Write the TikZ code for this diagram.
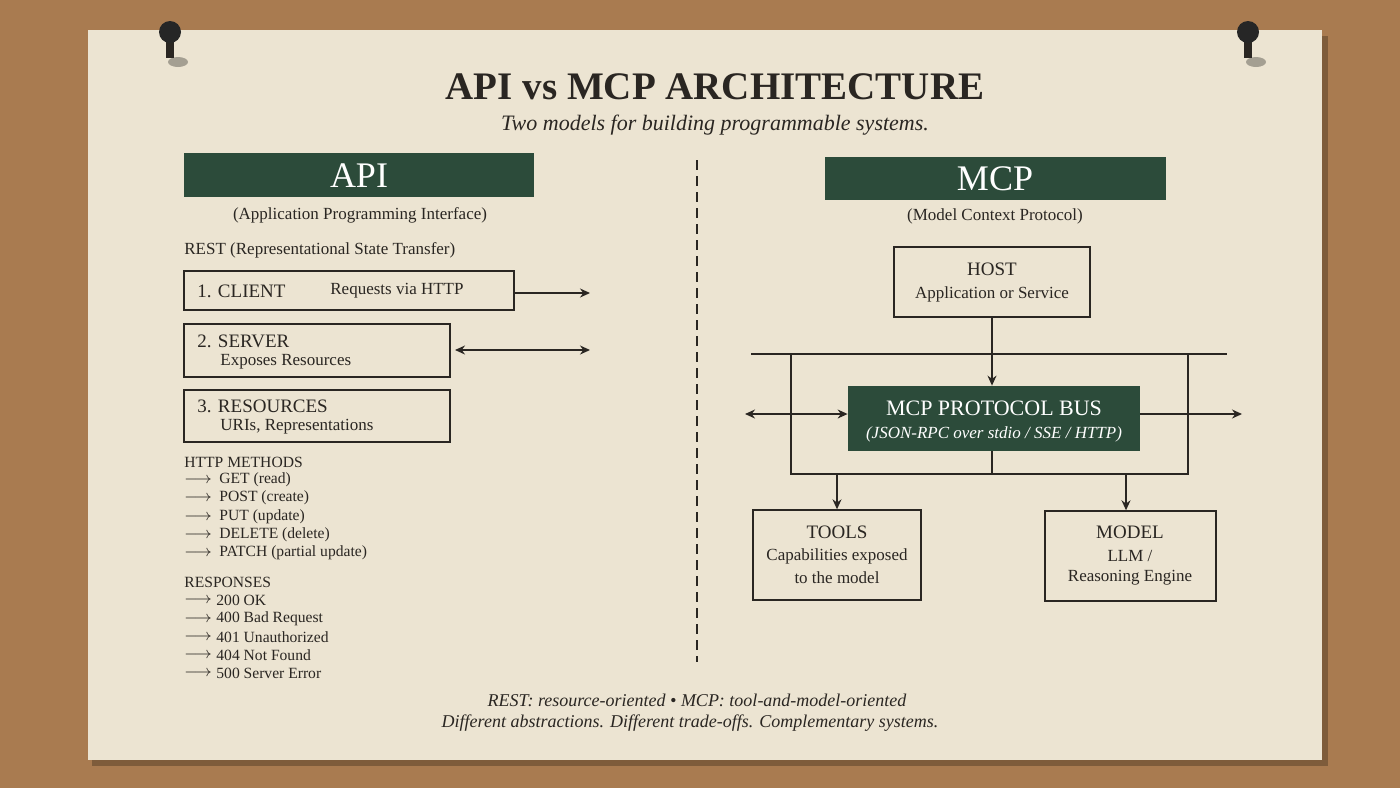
\documentclass[tikz,border=0pt]{standalone}
\usepackage{fontspec}
\setmainfont{Liberation Serif}
\usetikzlibrary{arrows.meta}
\definecolor{cork}{HTML}{A97B50}
\definecolor{paper}{HTML}{ECE4D2}
\definecolor{dgreen}{HTML}{2C4B3A}
\definecolor{ink}{HTML}{2A2622}
\begin{document}
\begin{tikzpicture}[x=0.5pt,y=-0.5pt,
  box/.style={draw=ink,line width=0.7pt},
  gbox/.style={fill=dgreen},
  t/.style={text=ink,inner sep=0pt,font=\fontsize{8.5}{10}\selectfont},
  s/.style={text=ink,inner sep=0pt,font=\fontsize{7.8}{9}\selectfont},
  h/.style={text=ink,inner sep=0pt,font=\fontsize{9.5}{11}\selectfont},
  ln/.style={draw=ink,line width=0.7pt},
  arr/.style={ln,-{Stealth[length=5pt,width=4.5pt]}},
  darr/.style={ln,{Stealth[length=5pt,width=4.5pt]}-{Stealth[length=5pt,width=4.5pt]}}]
\useasboundingbox (0,0) rectangle (1400,788);
\fill[cork] (0,0) rectangle (1400,788);
\fill[black,opacity=0.25] (92,36) rectangle (1328,766);
\fill[paper] (88,30) rectangle (1322,760);
% pins
\foreach \px in {170,1248}{
  \fill[black,opacity=0.3] (\px+8,62) ellipse (10 and 5);
  \fill[ink] (\px-4,40) rectangle (\px+4,58);
  \fill[black!85] (\px,32) ellipse (11 and 11);
}
\node[t,font=\fontsize{19.5}{24}\selectfont\bfseries] (title) at (715,87) {API vs MCP ARCHITECTURE};
\node[t,font=\fontsize{11}{13}\selectfont\itshape] (sub) at (715,125) {Two models for building programmable systems.};
% API side
\fill[gbox] (184,153) rectangle (534,197);
\node[t,text=white,font=\fontsize{18}{20}\selectfont] (api) at (359,176) {API};
\node[t] (apil) at (360,215) {(Application Programming Interface)};
\node[t,anchor=west] (rest) at (184,250) {REST (Representational State Transfer)};
\draw[box] (184,271) rectangle (514,310);
\node[h,anchor=west] (c1) at (197,291) {1. CLIENT};
\node[t,anchor=west] (c1b) at (330,291) {Requests via HTTP};
\coordinate (a1s) at (514,293); \coordinate (a1e) at (590,293);
\draw[arr] (a1s) -- (a1e);
\draw[box] (184,324) rectangle (450,377);
\node[h,anchor=west] (s1) at (197,341) {2. SERVER};
\node[t,anchor=west] (s2) at (220,362) {Exposes Resources};
\coordinate (a2s) at (455,350); \coordinate (a2e) at (590,350);
\draw[darr] (a2s) -- (a2e);
\draw[box] (184,390) rectangle (450,442);
\node[h,anchor=west] (r1) at (197,406) {3. RESOURCES};
\node[t,anchor=west] (r2) at (220,427) {URIs, Representations};
\node[s,anchor=west] (hm) at (184,462) {HTTP METHODS};
\foreach \y/\x in {480/GET (read),498/POST (create),517/PUT (update),535/DELETE (delete),553/PATCH (partial update)}{
  \node[s,anchor=west] at (184,\y) {$\longrightarrow$};
  \node[s,anchor=west] at (219,\y) {\x};}
\node[s,anchor=west] (rs) at (184,582) {RESPONSES};
\foreach \y/\x in {600/200 OK,619/400 Bad Request,637/401 Unauthorized,655/404 Not Found,673/500 Server Error}{
  \node[s,anchor=west] at (184,\y) {$\longrightarrow$};
  \node[s,anchor=west] at (216,\y) {\x};}
\draw[ln,dashed,dash pattern=on 5pt off 3pt] (697,160) -- (697,662);
% MCP side
\fill[gbox] (825,157) rectangle (1166,200);
\node[t,text=white,font=\fontsize{18}{20}\selectfont] (mcp) at (995,179) {MCP};
\node[t] (mcpl) at (995,216) {(Model Context Protocol)};
\node[box,minimum width=98pt,minimum height=35pt,inner sep=0pt] (host) at (992,282) {};
\node[h] at (992,269) {HOST};
\node[t] at (992,294) {Application or Service};
\node[gbox,minimum width=146pt,minimum height=32.5pt,inner sep=0pt] (bus) at (994,418.5) {};
\node[t,text=white,font=\fontsize{11}{13}\selectfont] at (994,408) {MCP PROTOCOL BUS};
\node[t,text=white,font=\fontsize{8.5}{10}\selectfont\itshape] at (994,434) {(JSON-RPC over stdio / SSE / HTTP)};
\draw[arr] (host.south) -- (bus.north -| host.south);
\coordinate (bl) at (751,354); \coordinate (br) at (1227,354);
\draw[ln] (bl) -- (br);
\draw[ln] (791,354) -- (791,474) -- (1188,474) -- (1188,354);
\draw[ln] (992,451) -- (992,474);
\coordinate (lw) at (745,414); \coordinate (re) at (1242,414);
\draw[darr] (lw) -- (bus.west |- lw);
\draw[arr] (bus.east |- re) -- (re);
\node[box,minimum width=84pt,minimum height=45pt,inner sep=0pt] (tools) at (837,555) {};
\node[h] at (837,532) {TOOLS};
\node[t] at (837,556) {Capabilities exposed};
\node[t] at (837,578) {to the model};
\node[box,minimum width=85.5pt,minimum height=45pt,inner sep=0pt] (model) at (1130.5,556) {};
\node[h] at (1130,532) {MODEL};
\node[t] at (1130,556) {LLM /};
\node[t] at (1130,578) {Reasoning Engine};
\coordinate (tj) at (837,474); \coordinate (mj) at (1126,474);
\draw[arr] (tj) -- (tools.north -| tj);
\draw[arr] (mj) -- (model.north -| mj);
% footer
\node[t,font=\fontsize{9}{11}\selectfont\itshape] (f1) at (697,700) {REST: resource-oriented • MCP: tool-and-model-oriented};
\node[t,font=\fontsize{9}{11}\selectfont\itshape] (f2) at (690,723) {Different abstractions. Different trade-offs. Complementary systems.};
\end{tikzpicture}
\end{document}
